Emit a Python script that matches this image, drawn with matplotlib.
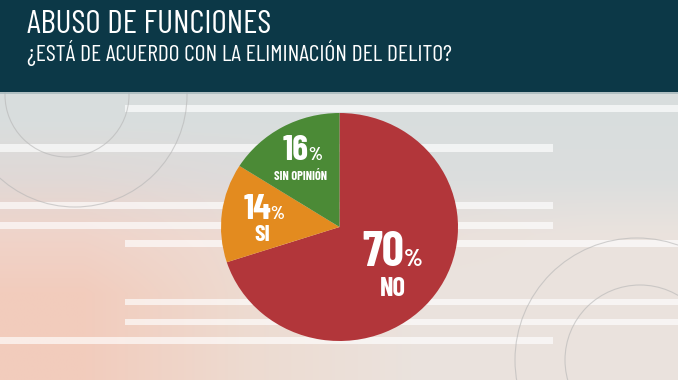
import numpy as np
import matplotlib.pyplot as plt
from matplotlib.patches import Rectangle, Circle

# data
labels = ['NO', 'SI', 'SIN OPINIÓN']
values = [70, 14, 16]
colors = ['#b2363a', '#e38b1f', '#4b8a36']
label_r = [0.555, 0.655, 0.683]
num_size = [35, 26, 26]
lab_size = [19, 17, 9]
lab_drop = [23, 17, 15]

title = 'ABUSO DE FUNCIONES'
subtitle = '¿ESTÁ DE ACUERDO CON LA ELIMINACIÓN DEL DELITO?'

plt.rcParams['font.family'] = ['Barlow Condensed', 'DejaVu Sans']

W, H = 678, 380
fig = plt.figure(figsize=(W / 100, H / 100), dpi=100)

# background layer in pixel coords
bg = fig.add_axes([0, 0, 1, 1])
bg.set_xlim(0, W)
bg.set_ylim(H, 0)
bg.axis('off')

grad = np.array([
    [[0.85, 0.87, 0.87], [0.85, 0.87, 0.87], [0.85, 0.87, 0.87], [0.85, 0.87, 0.87]],
    [[0.88, 0.85, 0.84], [0.87, 0.86, 0.86], [0.86, 0.87, 0.87], [0.86, 0.87, 0.87]],
    [[0.94, 0.83, 0.79], [0.93, 0.86, 0.83], [0.92, 0.88, 0.86], [0.92, 0.89, 0.87]],
    [[0.95, 0.80, 0.74], [0.93, 0.86, 0.82], [0.92, 0.89, 0.87], [0.92, 0.89, 0.87]],
    [[0.95, 0.80, 0.74], [0.93, 0.86, 0.82], [0.92, 0.89, 0.87], [0.92, 0.89, 0.87]],
])
bg.imshow(grad, extent=(0, W, H, 92), aspect='auto', interpolation='bilinear', zorder=0)

# white stripes
stripes = [(125, 105, 553, 7), (0, 144, 553, 8), (0, 202, 553, 7), (0, 222, 553, 7),
           (125, 240, 553, 7), (125, 299, 553, 6), (125, 319, 553, 6), (0, 337, 553, 7)]
for x0, y0, w, h in stripes:
    bg.add_patch(Rectangle((x0, y0), w, h, color='white', alpha=0.65, lw=0, zorder=1))

# faint circles
for cx, cy, r in [(67, 95, 62), (75, 95, 112), (637, 360, 122), (640, 360, 75)]:
    bg.add_patch(Circle((cx, cy), r, fill=False, ec='#b5b5b5', lw=0.8, alpha=0.6, zorder=1))

# header band
bg.add_patch(Rectangle((0, 0), W, 92, color='#0c3847', lw=0, zorder=2))
bg.plot([0, W], [92.5, 92.5], color='#a9b9bd', lw=1.2, zorder=3)
bg.text(27, 33, title, color='white', fontsize=24, ha='left', va='baseline', zorder=4)
bg.text(27, 61, subtitle, color='white', fontsize=17, ha='left', va='baseline', zorder=4)

# pie
ax = fig.add_axes([221 / W, (H - 341) / H, 237 / W, 228 / H])
wedges, _ = ax.pie(values, colors=colors, startangle=90, counterclock=False,
                   wedgeprops=dict(linewidth=0))
ax.set_xlim(-1, 1)
ax.set_ylim(-1, 1)
ax.set_aspect('auto')
ax.axis('off')

for i, w in enumerate(wedges):
    ang = np.deg2rad((w.theta1 + w.theta2) / 2)
    x = label_r[i] * np.cos(ang)
    y = label_r[i] * np.sin(ang)
    sh = num_size[i] * 0.24
    ax.annotate(f'{values[i]}', (x, y), xytext=(sh, -1), textcoords='offset points',
                ha='right', va='baseline', color='white', fontsize=num_size[i],
                fontweight='bold')
    ax.annotate('%', (x, y), xytext=(sh - 0.5, -1), textcoords='offset points',
                ha='left', va='baseline', color='white', fontsize=num_size[i] * 0.5,
                fontweight='bold')
    ax.annotate(labels[i], (x, y), xytext=(0, -lab_drop[i]), textcoords='offset points',
                ha='center', va='baseline', color='white', fontsize=lab_size[i],
                fontweight='bold')

fig.savefig('out.png', dpi=100)
